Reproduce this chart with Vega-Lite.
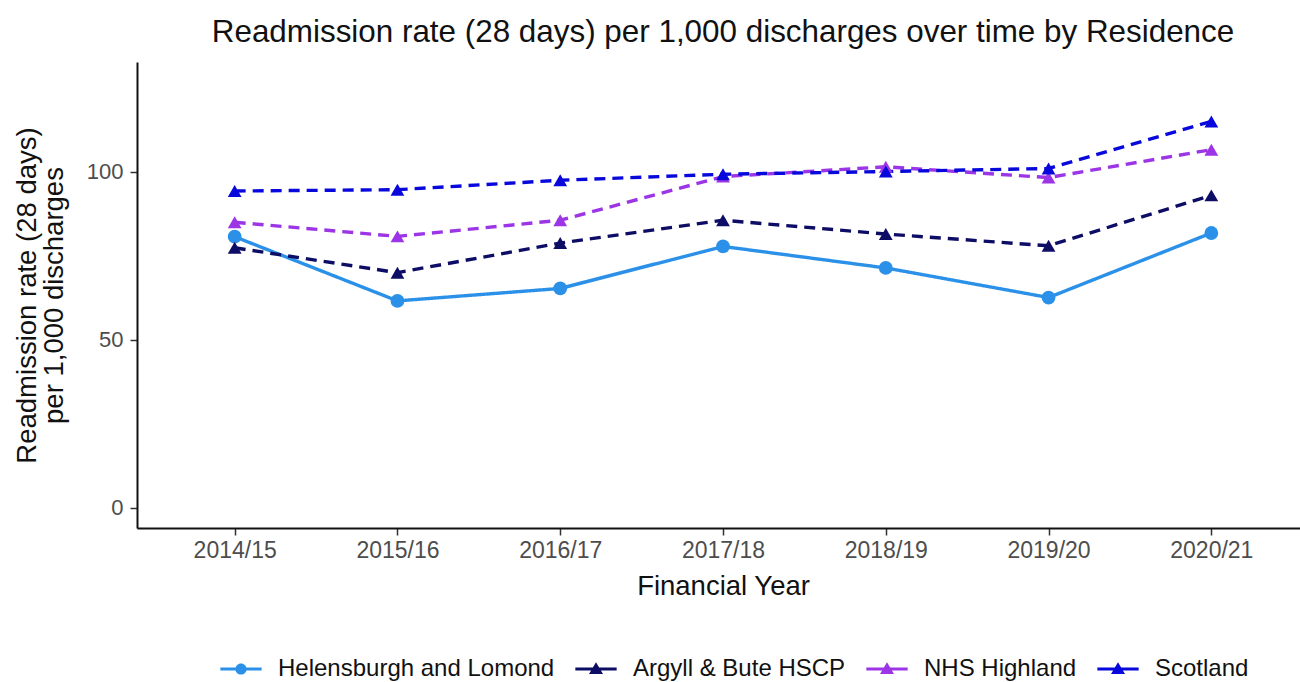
{
  "$schema": "https://vega.github.io/schema/vega-lite/v6.json",
  "autosize": "none",
  "width": 1172,
  "height": 466,
  "padding": {"left": 137, "top": 62, "right": 0, "bottom": 154},
  "background": "white",
  "title": {
    "text": "Readmission rate (28 days) per 1,000 discharges over time by Residence",
    "anchor": "middle",
    "frame": "group",
    "fontSize": 31.4,
    "fontWeight": "normal",
    "font": "Liberation Sans",
    "color": "#111111",
    "offset": 14
  },
  "data": {
    "values": [
      {"year": "2014/15", "region": "Helensburgh and Lomond", "rate": 80.7},
      {"year": "2015/16", "region": "Helensburgh and Lomond", "rate": 61.6},
      {"year": "2016/17", "region": "Helensburgh and Lomond", "rate": 65.3},
      {"year": "2017/18", "region": "Helensburgh and Lomond", "rate": 77.8},
      {"year": "2018/19", "region": "Helensburgh and Lomond", "rate": 71.4},
      {"year": "2019/20", "region": "Helensburgh and Lomond", "rate": 62.6},
      {"year": "2020/21", "region": "Helensburgh and Lomond", "rate": 81.8},
      {"year": "2014/15", "region": "Argyll & Bute HSCP", "rate": 77.4},
      {"year": "2015/16", "region": "Argyll & Bute HSCP", "rate": 70.0},
      {"year": "2016/17", "region": "Argyll & Bute HSCP", "rate": 78.8},
      {"year": "2017/18", "region": "Argyll & Bute HSCP", "rate": 85.6},
      {"year": "2018/19", "region": "Argyll & Bute HSCP", "rate": 81.5},
      {"year": "2019/20", "region": "Argyll & Bute HSCP", "rate": 78.0},
      {"year": "2020/21", "region": "Argyll & Bute HSCP", "rate": 93.0},
      {"year": "2014/15", "region": "NHS Highland", "rate": 85.0},
      {"year": "2015/16", "region": "NHS Highland", "rate": 80.8},
      {"year": "2016/17", "region": "NHS Highland", "rate": 85.6},
      {"year": "2017/18", "region": "NHS Highland", "rate": 98.6},
      {"year": "2018/19", "region": "NHS Highland", "rate": 101.5},
      {"year": "2019/20", "region": "NHS Highland", "rate": 98.3},
      {"year": "2020/21", "region": "NHS Highland", "rate": 106.6},
      {"year": "2014/15", "region": "Scotland", "rate": 94.3},
      {"year": "2015/16", "region": "Scotland", "rate": 94.7},
      {"year": "2016/17", "region": "Scotland", "rate": 97.5},
      {"year": "2017/18", "region": "Scotland", "rate": 99.3},
      {"year": "2018/19", "region": "Scotland", "rate": 100.1},
      {"year": "2019/20", "region": "Scotland", "rate": 101.0},
      {"year": "2020/21", "region": "Scotland", "rate": 115.0}
    ]
  },
  "encoding": {
    "x": {
      "field": "year",
      "type": "ordinal",
      "scale": {"type": "point", "padding": 0.6},
      "axis": {
        "title": "Financial Year",
        "labelAngle": 0,
        "labelFontSize": 23,
        "labelColor": "#4d4d4d",
        "labelFont": "Liberation Sans",
        "labelPadding": 4,
        "titleFontSize": 27.5,
        "titleFont": "Liberation Sans",
        "titleFontWeight": "normal",
        "titleColor": "#111111",
        "titlePadding": 10,
        "tickSize": 7,
        "tickWidth": 1.5,
        "tickColor": "#333333",
        "domainColor": "#111111",
        "domainWidth": 2,
        "grid": false
      }
    },
    "y": {
      "field": "rate",
      "type": "quantitative",
      "scale": {"domain": [-6, 132.7], "nice": false, "zero": false},
      "axis": {
        "title": ["Readmission rate (28 days)", "per 1,000 discharges"],
        "values": [0, 50, 100],
        "labelFontSize": 22,
        "labelColor": "#4d4d4d",
        "labelFont": "Liberation Sans",
        "labelPadding": 7,
        "titleFontSize": 27.5,
        "titleFont": "Liberation Sans",
        "titleFontWeight": "normal",
        "titleColor": "#111111",
        "titlePadding": 18,
        "titleLineHeight": 27,
        "tickSize": 7,
        "tickWidth": 1.5,
        "tickColor": "#333333",
        "domainColor": "#111111",
        "domainWidth": 2,
        "grid": false
      }
    },
    "color": {
      "field": "region",
      "type": "nominal",
      "scale": {
        "domain": ["Helensburgh and Lomond", "Argyll & Bute HSCP", "NHS Highland", "Scotland"],
        "range": ["#2b91e8", "#0d0d66", "#9b35e6", "#0808dc"]
      }
    }
  },
  "layer": [
    {
      "mark": {"type": "line", "strokeWidth": 3.4},
      "encoding": {
        "color": {"field": "region", "type": "nominal", "legend": null},
        "strokeDash": {
          "field": "region",
          "type": "nominal",
          "legend": null,
          "scale": {
            "domain": ["Helensburgh and Lomond", "Argyll & Bute HSCP", "NHS Highland", "Scotland"],
            "range": [[1, 0], [11, 7], [11, 7], [11, 7]]
          }
        }
      }
    },
    {
      "mark": {"type": "point", "filled": true, "opacity": 1, "size": 190},
      "encoding": {
        "color": {"field": "region", "type": "nominal", "legend": null},
        "shape": {
          "field": "region",
          "type": "nominal",
          "legend": null,
          "scale": {
            "domain": ["Helensburgh and Lomond", "Argyll & Bute HSCP", "NHS Highland", "Scotland"],
            "range": ["circle", "triangle-up", "triangle-up", "triangle-up"]
          }
        }
      }
    },
    {
      "transform": [{"filter": "false"}],
      "mark": {"type": "point", "filled": true, "opacity": 1, "size": 196},
      "encoding": {
        "color": {
          "field": "region",
          "type": "nominal",
          "legend": {
            "title": null,
            "orient": "none",
            "legendX": 92,
            "legendY": 595,
            "direction": "horizontal",
            "columns": 4,
            "labelFontSize": 24,
            "labelFont": "Liberation Sans",
            "labelColor": "#111111",
            "labelOffset": 25,
            "labelLimit": 600,
            "columnPadding": 20,
            "symbolSize": 196,
            "symbolStrokeWidth": 0,
            "padding": 0
          }
        },
        "shape": {
          "field": "region",
          "type": "nominal",
          "scale": {
            "domain": ["Helensburgh and Lomond", "Argyll & Bute HSCP", "NHS Highland", "Scotland"],
            "range": [
              "M-2.95,-0.22 L2.95,-0.22 L2.95,0.22 L-2.95,0.22 Z M-0.8,0 A0.8,0.8 0 1,1 0.8,0 A0.8,0.8 0 1,1 -0.8,0 Z",
              "M-2.95,-0.22 L2.95,-0.22 L2.95,0.22 L-2.95,0.22 Z M-1,0.72 L0,-0.98 L1,0.72 Z",
              "M-2.95,-0.22 L2.95,-0.22 L2.95,0.22 L-2.95,0.22 Z M-1,0.72 L0,-0.98 L1,0.72 Z",
              "M-2.95,-0.22 L2.95,-0.22 L2.95,0.22 L-2.95,0.22 Z M-1,0.72 L0,-0.98 L1,0.72 Z"
            ]
          },
          "legend": {
            "title": null,
            "orient": "none",
            "legendX": 92,
            "legendY": 595,
            "direction": "horizontal",
            "columns": 4,
            "labelFontSize": 24,
            "labelFont": "Liberation Sans",
            "labelColor": "#111111",
            "labelOffset": 25,
            "labelLimit": 600,
            "columnPadding": 20,
            "symbolSize": 196,
            "symbolStrokeWidth": 0,
            "padding": 0
          }
        }
      }
    }
  ],
  "resolve": {
    "scale": {"shape": "independent"},
    "legend": {"color": "independent", "shape": "independent"}
  },
  "config": {
    "view": {"stroke": null},
    "font": "Liberation Sans"
  }
}
